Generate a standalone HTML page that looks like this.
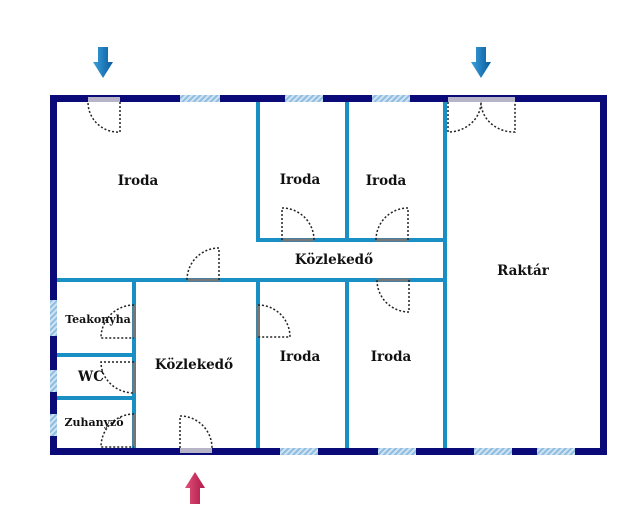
<!DOCTYPE html>
<html><head><meta charset="utf-8"><style>
html,body{margin:0;padding:0;background:#fff;}
svg{display:block}
text{font-family:"DejaVu Serif","Liberation Serif",serif;font-weight:bold;fill:#111;}
</style></head><body>
<svg width="640" height="530" viewBox="0 0 640 530" xmlns="http://www.w3.org/2000/svg">
<defs>
<pattern id="h" width="4" height="4" patternUnits="userSpaceOnUse" patternTransform="rotate(45)">
<rect width="4" height="4" fill="#cfe3f3"/><rect width="2" height="4" fill="#8fbde0"/></pattern>
<linearGradient id="bl" x1="0" x2="1"><stop offset="0" stop-color="#3aa0dc"/><stop offset="1" stop-color="#0a5a9c"/></linearGradient>
<linearGradient id="rd" x1="0" x2="1"><stop offset="0" stop-color="#e0507a"/><stop offset="1" stop-color="#b01a48"/></linearGradient>
</defs>
<!-- inner walls -->
<g stroke="#1a8fc4" stroke-width="4" fill="none">
<line x1="258" y1="100" x2="258" y2="242"/>
<line x1="347" y1="100" x2="347" y2="242"/>
<line x1="445" y1="100" x2="445" y2="450"/>
<line x1="256" y1="240" x2="447" y2="240"/>
<line x1="55" y1="280" x2="447" y2="280"/>
<line x1="134" y1="278" x2="134" y2="450"/>
<line x1="258" y1="278" x2="258" y2="450"/>
<line x1="347" y1="278" x2="347" y2="450"/>
<line x1="55" y1="355" x2="136" y2="355"/>
<line x1="55" y1="398" x2="136" y2="398"/>
</g>
<!-- outer wall -->
<rect x="53.5" y="98.5" width="550" height="353" fill="none" stroke="#0a0a78" stroke-width="7"/>
<!-- windows -->
<g fill="url(#h)">
<rect x="180" y="95" width="40" height="7"/><rect x="285" y="95" width="38" height="7"/><rect x="372" y="95" width="38" height="7"/>
<rect x="280" y="448" width="38" height="7"/><rect x="378" y="448" width="38" height="7"/><rect x="474" y="448" width="38" height="7"/><rect x="537" y="448" width="38" height="7"/>
<rect x="50" y="300" width="7" height="36"/><rect x="50" y="370" width="7" height="22"/><rect x="50" y="414" width="7" height="22"/>
</g>
<!-- door openings -->
<g fill="#b8b4c8">
<rect x="88" y="97" width="32" height="5"/><rect x="448" y="97" width="67" height="5"/><rect x="180" y="448" width="32" height="5"/>
</g>
<g stroke="#777" stroke-width="3">
<line x1="282" y1="240" x2="314" y2="240"/><line x1="376" y1="240" x2="408" y2="240"/>
<line x1="187" y1="280" x2="219" y2="280"/><line x1="377" y1="280" x2="409" y2="280"/>
<line x1="258" y1="305" x2="258" y2="337"/>
<line x1="134" y1="305" x2="134" y2="338"/><line x1="134" y1="362" x2="134" y2="393"/><line x1="134" y1="414" x2="134" y2="447"/>
</g>
<!-- door swings -->
<g stroke="#222" stroke-width="1.5" stroke-dasharray="2 2" fill="none">
<path d="M120 102 V132 A30 30 0 0 1 88 102"/>
<path d="M448 102 V132 A33 30 0 0 0 481 102 A33 30 0 0 0 515 132 V102"/>
<path d="M282 240 V208 A32 32 0 0 1 314 240"/>
<path d="M408 240 V208 A32 32 0 0 0 376 240"/>
<path d="M219 280 V248 A32 32 0 0 0 187 280"/>
<path d="M409 280 V312 A32 32 0 0 1 377 280"/>
<path d="M258 305 A32 32 0 0 1 290 337 H258"/>
<path d="M134 305 A33 33 0 0 0 101 338 H134"/>
<path d="M134 362 H101 A33 31 0 0 0 134 393"/>
<path d="M134 414 A33 33 0 0 0 101 447 H134"/>
<path d="M180 448 V416 A32 32 0 0 1 212 448"/>
</g>
<!-- arrows -->
<path d="M98 47 H108 V62 H113 L103 78 L93 62 H98 Z" fill="url(#bl)"/>
<path d="M476 47 H486 V62 H491 L481 78 L471 62 H476 Z" fill="url(#bl)"/>
<path d="M190 504 H200 V488 H205 L195 472 L185 488 H190 Z" fill="url(#rd)"/>
<!-- labels -->
<g font-size="13.5">
<text x="138" y="185" text-anchor="middle">Iroda</text>
<text x="300" y="184" text-anchor="middle">Iroda</text>
<text x="386" y="185" text-anchor="middle">Iroda</text>
<text x="334" y="264" text-anchor="middle">Közlekedő</text>
<text x="523" y="275" text-anchor="middle">Raktár</text>
<text x="300" y="361" text-anchor="middle">Iroda</text>
<text x="391" y="361" text-anchor="middle">Iroda</text>
<text x="194" y="369" text-anchor="middle">Közlekedő</text>
<text x="91" y="381" text-anchor="middle">WC</text>
</g>
<g font-size="11">
<text x="98" y="323" text-anchor="middle">Teakonyha</text>
<text x="94" y="426" text-anchor="middle">Zuhanyzó</text>
</g>
</svg>
</body></html>
